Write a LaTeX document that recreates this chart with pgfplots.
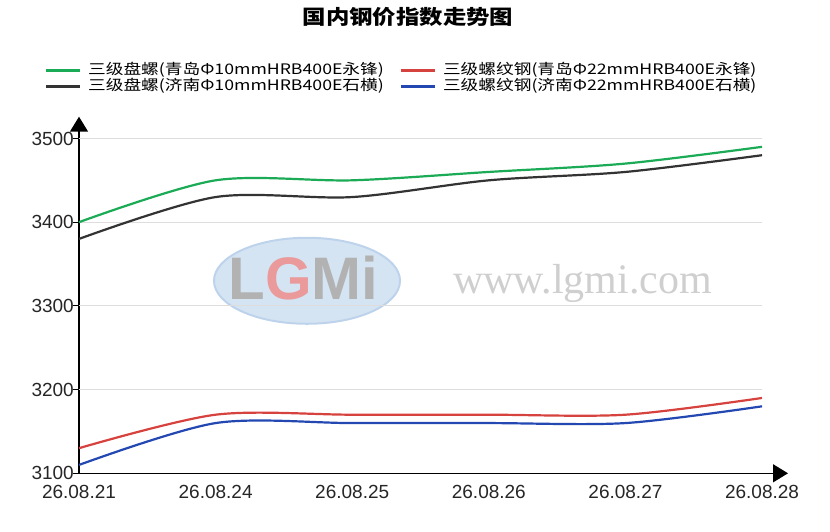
\documentclass[border=0pt]{standalone}
\usepackage{fontspec}
\setmainfont{Liberation Sans}
\newfontfamily\cjk{Noto Sans CJK SC}
\newfontfamily\wmserif{Liberation Serif}
\usepackage{graphicx}
\usepackage{xcolor}
\usepackage{pgfplots}
\pgfplotsset{compat=1.18}
\usetikzlibrary{arrows.meta}
\definecolor{cGreen}{HTML}{1BAA55}
\definecolor{cBlack}{HTML}{333333}
\definecolor{cRed}{HTML}{D6423E}
\definecolor{cBlue}{HTML}{2448B2}
\definecolor{gridc}{HTML}{DDDDDD}
\definecolor{wmBlue}{HTML}{D5E4F3}
\definecolor{wmEdge}{HTML}{BDD3EB}
\definecolor{wmGray}{HTML}{B2B2B2}
\definecolor{wmRed}{HTML}{EA9A9A}
\definecolor{wmText}{HTML}{CFCFCF}
\newcommand\wide[1]{\scalebox{1.22}[1]{#1}}

\begin{document}
\begin{tikzpicture}
  \begin{axis}[
      name=ax,
      scale only axis,
      width=709pt, height=356.6pt,
      xmin=0, xmax=5.19,
      ymin=3100, ymax=3526,
      axis lines=left,
      axis line style={line width=1.4pt, black, -{Triangle[length=15pt,width=18pt]}},
      xtick={0,1,2,3,4,5},
      xticklabels={26.08.21,26.08.24,26.08.25,26.08.26,26.08.27,26.08.28},
      ytick={3100,3200,3300,3400,3500},
      yticklabels={3100,3200,3300,3400,3500},
      tick align=center,
      major tick length=12pt,
      y tick style={black, line width=1pt},
      x tick style={draw=none},
      ticklabel style={font=\fontsize{19}{19}\selectfont, text=black!85},
      xticklabel style={anchor=north, inner sep=0pt, yshift=-6pt},
      yticklabel style={anchor=east, inner sep=0pt, xshift=1pt},
      legend style={at={(-0.048,1.149)}, anchor=north west, draw=none, fill=none,
        inner sep=0pt, outer sep=0pt, row sep=2pt,
        nodes={inner sep=0pt, text height=10.5pt, text depth=3.5pt,
          font=\cjk\fontsize{14.5}{14.5}\selectfont},
        /tikz/every odd column/.append style={column sep=7pt},
        /tikz/every even column/.append style={column sep=16pt}},
      legend columns=2,
      legend cell align=left,
      legend image code/.code={\draw[#1] (0pt,0pt) -- (34pt,0pt);},
      every axis plot/.append style={line width=2.2pt, smooth, tension=0.5, no markers},
    ]
    % watermark, grid and small x ticks
    \fill[wmBlue, draw=wmEdge, line width=2pt] (axis cs:1.669,3330) ellipse [x radius=93pt, y radius=43pt];
    \node[font=\bfseries\fontsize{60}{60}\selectfont, inner sep=0pt] at (axis cs:1.643,3333)
      {\textcolor{wmGray}{L}\textcolor{wmRed}{G}\textcolor{wmGray}{Mi}};
    \node[font=\wmserif\fontsize{42}{42}\selectfont, text=wmText, inner sep=0pt] at (axis cs:3.686,3327) {www.lgmi.com};
    \draw[gridc, line width=1pt] (axis cs:0,3200) -- (axis cs:5,3200);
    \draw[gridc, line width=1pt] (axis cs:0,3300) -- (axis cs:5,3300);
    \draw[gridc, line width=1pt] (axis cs:0,3400) -- (axis cs:5,3400);
    \draw[gridc, line width=1pt] (axis cs:0,3500) -- (axis cs:5,3500);
    \pgfplotsinvokeforeach{1,...,5}{\draw[gridc, line width=1pt] (axis cs:#1,3100) ++(0,-1pt) -- ++(0,-5pt);}

    \addplot[cGreen] coordinates {(0,3400) (1,3450) (2,3450) (3,3460) (4,3470) (5,3490)};
    \addlegendentry{\wide{三级盘螺(青岛Φ10mmHRB400E永锋)}}
    \addplot[cRed] coordinates {(0,3130) (1,3170) (2,3170) (3,3170) (4,3170) (5,3190)};
    \addlegendentry{\wide{三级螺纹钢(青岛Φ22mmHRB400E永锋)}}
    \addplot[cBlack] coordinates {(0,3380) (1,3430) (2,3430) (3,3450) (4,3460) (5,3480)};
    \addlegendentry{\wide{三级盘螺(济南Φ10mmHRB400E石横)}}
    \addplot[cBlue] coordinates {(0,3110) (1,3160) (2,3160) (3,3160) (4,3160) (5,3180)};
    \addlegendentry{\wide{三级螺纹钢(济南Φ22mmHRB400E石横)}}
  \end{axis}
  \node[font=\cjk\bfseries\fontsize{20}{20}\selectfont, inner sep=0pt]
    at ([shift={(329pt,456pt)}]ax.south west) {\scalebox{1.17}[1]{国内钢价指数走势图}};
  \pgfresetboundingbox
  \path[use as bounding box] ([shift={(-79pt,-57.7pt)}]ax.south west) rectangle ([shift={(751pt,473.3pt)}]ax.south west);
\end{tikzpicture}
\end{document}
